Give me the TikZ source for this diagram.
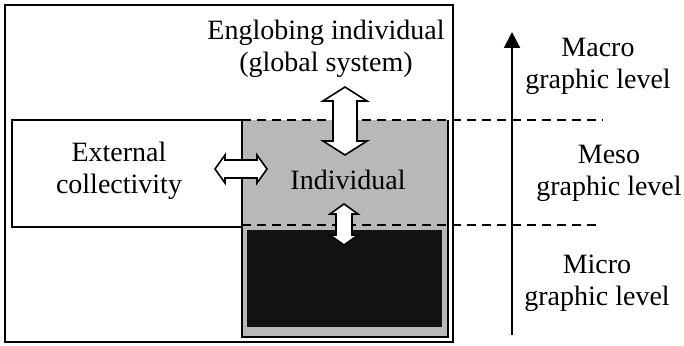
\documentclass[tikz,border=0pt]{standalone}
\usepackage{fontspec}
\setmainfont{Liberation Serif}
\usetikzlibrary{arrows.meta}
\tikzset{
  boxline/.style={line width=1.8pt},
  levelline/.style={line width=1.4pt, dash pattern=on 9pt off 6pt},
  blockarrow/.style={draw=black, fill=white, line width=1.6pt, line join=miter},
  lbl/.style={align=center, inner sep=0pt, font=\fontsize{28}{32}\selectfont},
}
\newcommand\vdarrow[6]{% x, ytop, ybot, shaft half, head half, head length
  \draw[blockarrow] (#1-#4,#2+#6) -- (#1-#5,#2+#6) -- (#1,#2) -- (#1+#5,#2+#6) -- (#1+#4,#2+#6)
    -- (#1+#4,#3-#6) -- (#1+#5,#3-#6) -- (#1,#3) -- (#1-#5,#3-#6) -- (#1-#4,#3-#6) -- cycle;}
\newcommand\hdarrow[6]{% y, xleft, xright, shaft half, head half, head length
  \draw[blockarrow] (#2+#6,#1-#4) -- (#2+#6,#1-#5) -- (#2,#1) -- (#2+#6,#1+#5) -- (#2+#6,#1+#4)
    -- (#3-#6,#1+#4) -- (#3-#6,#1+#5) -- (#3,#1) -- (#3-#6,#1-#5) -- (#3-#6,#1-#4) -- cycle;}
\begin{document}
\begin{tikzpicture}[x=1pt,y=-1pt]
\useasboundingbox (0,0) rectangle (684,345);
% outer box
\draw[boxline] (5,5) rectangle (453,342);
% external collectivity box
\draw[boxline, fill=white] (12,120) rectangle (243,227);
% individual gray box
\fill[black!28] (242,120) rectangle (448,337);
\fill[black!93] (247,230) rectangle (442,327);
\draw[boxline] (242,120) -- (242,337) -- (448,337) -- (448,120);
% level lines
\draw[levelline] (242,120) -- (603,120);
\draw[levelline] (242,225) -- (600,225);
% vertical scale arrow
\coordinate (scaleBot) at (512,335);
\coordinate (scaleTop) at (512,32);
\draw[line width=2pt, -{Triangle[length=16pt,width=16pt]}] (scaleBot) -- (scaleTop);
% block arrows
\vdarrow{345}{87}{155}{12}{22}{14}
\hdarrow{169}{215}{267}{9}{14}{10}
\vdarrow{344}{204}{245}{8}{14}{10}
% texts
\node[lbl] (englob) at (326,49) {Englobing individual\\(global system)};
\node[lbl] (ext) at (119,171) {External\\collectivity};
\node[lbl] (indiv) at (348,180) {Individual};
\node[lbl] (macro) at (598,66) {Macro\\graphic level};
\node[lbl] (meso) at (609,173) {Meso\\graphic level};
\node[lbl] (micro) at (597,283) {Micro\\graphic level};
\end{tikzpicture}
\end{document}
